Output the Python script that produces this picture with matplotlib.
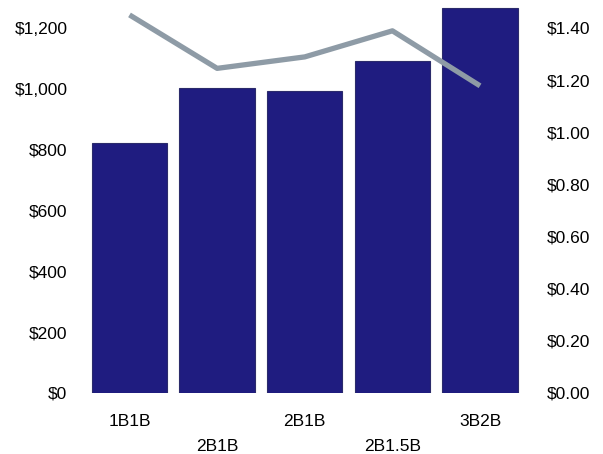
import matplotlib.pyplot as plt
from matplotlib.ticker import FuncFormatter

plt.rcParams["font.family"] = ["Liberation Sans", "DejaVu Sans"]

units = ["1B1B", "2B1B", "2B1B", "2B1.5B", "3B2B"]
avg_rent = [822, 1003, 993, 1091, 1266]
rent_per_sqft = [1.45, 1.245, 1.289, 1.389, 1.178]

W, H = 603, 454
fig = plt.figure(figsize=(W / 100, H / 100), dpi=100)
# axes box in pixels: left 80, right 530, top 5, bottom 393
ax = fig.add_axes([80 / W, 1 - 393 / H, 450 / W, 388 / H])

x = list(range(len(units)))
ax.bar(x, avg_rent, width=0.86, color="#1f1c80", edgecolor="#2b2b6b", linewidth=0.8)
ax.set_xlim(-0.565, 4.57)
ax.set_ylim(0, 1275)
ax.set_yticks(range(0, 1201, 200))
ax.yaxis.set_major_formatter(FuncFormatter(lambda v, p: "${:,.0f}".format(v)))

ax2 = ax.twinx()
ax2.plot(x, rent_per_sqft, color="#8e9ba6", linewidth=3.8, solid_capstyle="butt")
ax2.set_ylim(0, 1.488)
ax2.set_yticks([i * 0.2 for i in range(8)])
ax2.yaxis.set_major_formatter(FuncFormatter(lambda v, p: "${:.2f}".format(v)))

# alternate the category labels over two rows
ax.set_xticks(x)
ax.set_xticklabels(units)
for i, tick in enumerate(ax.xaxis.get_major_ticks()):
    tick.set_pad(15 if i % 2 == 0 else 33)

for a in (ax, ax2):
    for s in a.spines.values():
        s.set_visible(False)
    a.tick_params(length=0, labelsize=12.5, colors="black")
ax.tick_params(axis="y", pad=9)
ax2.tick_params(axis="y", pad=12)

fig.savefig("out.png", dpi=100)
